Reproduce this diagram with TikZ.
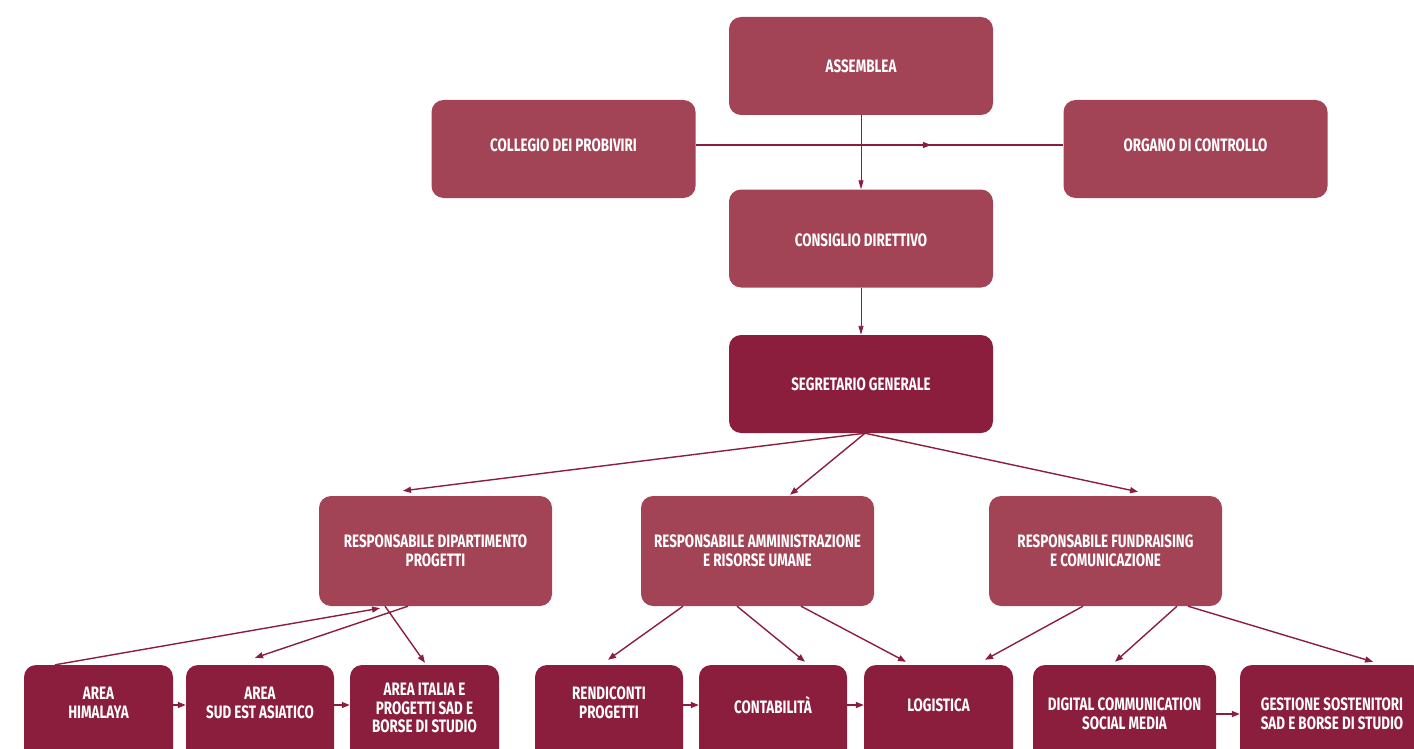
\documentclass[tikz,border=0pt]{standalone}
\usepackage{fontspec}
\setmainfont{Fira Sans}[FakeStretch=0.745]
\usetikzlibrary{arrows.meta,decorations.markings}
\definecolor{lightbox}{RGB}{163,67,86}
\definecolor{darkbox}{RGB}{139,30,60}
\begin{document}
\begin{tikzpicture}[x=1pt,y=-1pt,
  box/.style={rectangle,rounded corners=12pt,inner sep=0pt,text=white,align=center,
    font=\fontsize{18}{18.5}\selectfont\bfseries},
  lbox/.style={box,fill=lightbox,minimum width=264pt,minimum height=98pt},
  mbox/.style={box,fill=lightbox,minimum width=233pt,minimum height=110pt},
  sbox/.style={box,fill=darkbox,minimum height=110pt},
  txt/.style={text=white,align=center,inner sep=0pt,font=\fontsize{18}{18.5}\selectfont\bfseries},
  conn/.style={draw=darkbox,line width=1.4pt,-{Triangle[length=8pt,width=6pt]}},
  thin/.style={draw=darkbox,line width=0.9pt,-{Triangle[length=9pt,width=5pt]}},
  midarrow/.style={draw=darkbox,line width=1.4pt,postaction={decorate},
    decoration={markings,mark=at position 0.64 with {\arrow{Triangle[length=8pt,width=6pt]}}}}
]
\clip (0,0) rectangle (1414,749);
% top boxes
\node[lbox] (ass) at (861,66) {ASSEMBLEA};
\node[lbox,text depth=8pt] (col) at (563.5,149) {COLLEGIO DEI PROBIVIRI};
\node[lbox,text depth=8pt] (org) at (1195.5,149) {ORGANO DI CONTROLLO};
\node[lbox,text height=16pt] (con) at (861,238.5) {CONSIGLIO DIRETTIVO};
\node[lbox,fill=darkbox] (seg) at (861,384) {SEGRETARIO GENERALE};
% middle boxes
\node[mbox] (rdp) at (435.5,551) {RESPONSABILE DIPARTIMENTO\\PROGETTI};
\node[mbox] (ram) at (757.5,551) {RESPONSABILE AMMINISTRAZIONE\\E RISORSE UMANE};
\node[mbox] (rfc) at (1105.5,551) {RESPONSABILE FUNDRAISING\\E COMUNICAZIONE};
% bottom boxes
\node[sbox,minimum width=149pt] (him) at (98.5,720) {};
\node[sbox,minimum width=148pt] (sud) at (260,720) {};
\node[sbox,minimum width=149pt] (ita) at (424.5,720) {};
\node[sbox,minimum width=148pt] (ren) at (609,720) {};
\node[sbox,minimum width=148pt] (cnt) at (773,720) {};
\node[sbox,minimum width=149pt] (log) at (938.5,720) {};
\node[sbox,minimum width=183pt] (dig) at (1124.5,720) {};
\node[sbox,minimum width=184pt] (ges) at (1332,720) {};
\node[txt] (thim) at ([yshift=17pt]him.center) {AREA\\HIMALAYA};
\node[txt] (tsud) at ([yshift=17pt]sud.center) {AREA\\SUD EST ASIATICO};
\node[txt] (tita) at ([yshift=12pt]ita.center) {AREA ITALIA E\\PROGETTI SAD E\\BORSE DI STUDIO};
\node[txt] (tren) at ([yshift=17pt]ren.center) {RENDICONTI\\PROGETTI};
\node[txt] (tcnt) at ([yshift=15pt]cnt.center) {CONTABILITÀ};
\node[txt] (tlog) at ([yshift=15pt]log.center) {LOGISTICA};
\node[txt] (tdig) at ([yshift=6pt]dig.center) {DIGITAL COMMUNICATION\\SOCIAL MEDIA};
\node[txt] (tges) at ([yshift=6pt]ges.center) {GESTIONE SOSTENITORI\\SAD E BORSE DI STUDIO};
% top connectors
\draw[midarrow] ([yshift=4pt]col.east) -- ([yshift=4pt]org.west);
\draw[thin] (ass.south) -- (con.north);
\draw[thin] (con.south) -- (seg.north);
% segretario
\draw[conn] ([xshift=4pt]seg.south) -- ([xshift=-32.5pt,yshift=5pt]rdp.north);
\draw[conn] ([xshift=4pt]seg.south) -- ([xshift=32.5pt,yshift=1pt]ram.north);
\draw[conn] ([xshift=4pt]seg.south) -- ([xshift=32.5pt,yshift=4pt]rfc.north);
% progetti
\draw[conn] ([xshift=-43.5pt]him.north) -- ([xshift=-55.5pt,yshift=-2pt]rdp.south);
\draw[conn] ([xshift=-27.5pt]rdp.south) -- ([xshift=-5pt,yshift=7pt]sud.north);
\draw[conn] ([xshift=-50.5pt]rdp.south) -- ([xshift=0.5pt,yshift=2pt]ita.north);
\draw[conn] ([yshift=15pt]him.east) -- ([yshift=15pt]sud.west);
\draw[conn] ([yshift=15pt]sud.east) -- ([yshift=15pt]ita.west);
% amministrazione
\draw[conn] ([xshift=-74.5pt]ram.south) -- ([xshift=-1pt,yshift=5pt]ren.north);
\draw[conn] ([xshift=-20.5pt]ram.south) -- ([xshift=32pt,yshift=3pt]cnt.north);
\draw[conn] ([xshift=43.5pt]ram.south) -- ([xshift=-32.5pt,yshift=3pt]log.north);
\draw[conn] ([yshift=15pt]ren.east) -- ([yshift=15pt]cnt.west);
\draw[conn] ([yshift=15pt]cnt.east) -- ([yshift=15pt]log.west);
% fundraising
\draw[conn] ([xshift=-22.5pt]rfc.south) -- ([xshift=46.5pt,yshift=5pt]log.north);
\draw[conn] ([xshift=71.5pt]rfc.south) -- ([xshift=-9.5pt,yshift=3pt]dig.north);
\draw[conn] ([xshift=82.5pt]rfc.south) -- ([xshift=41pt,yshift=3pt]ges.north);
\draw[conn] ([yshift=6pt]dig.east) -- ([yshift=6pt]ges.west);
\end{tikzpicture}
\end{document}
